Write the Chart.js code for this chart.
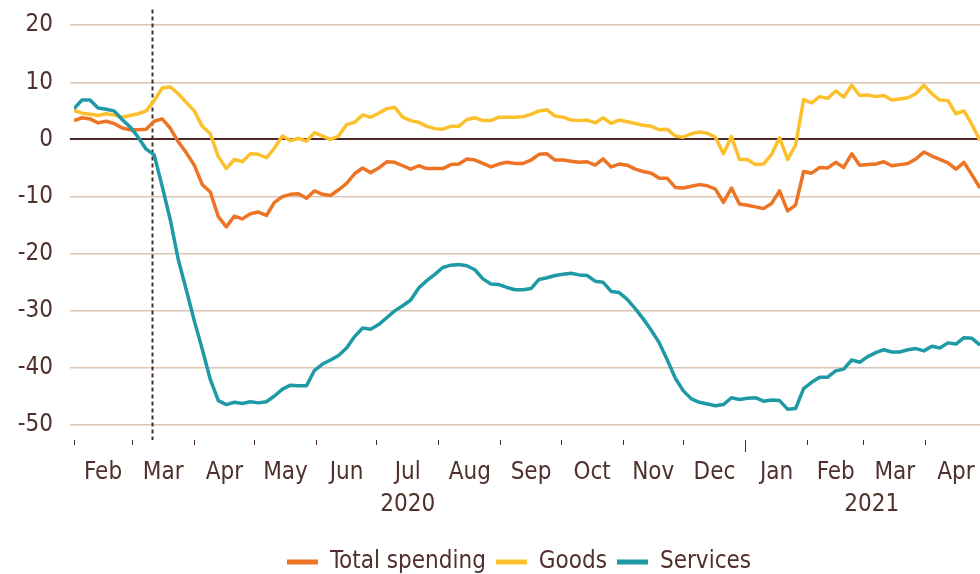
<!DOCTYPE html>
<html>
<head>
<meta charset="utf-8">
<script src="https://cdn.jsdelivr.net/npm/chart.js@4.4.1/dist/chart.umd.min.js"></script>
<style>
  html, body { margin: 0; padding: 0; background: #fff; overflow: hidden; }
  #wrap { width: 980px; height: 574px; overflow: hidden; }
  canvas { display: block; }
</style>
</head>
<body>
<div id="wrap"><canvas id="myChart" width="980" height="584"></canvas></div>
<script>
// values read every 4 days, day 0 = 1 Feb 2020
const dayStep = 4;

const totalSpending = [
  3.3, 3.8, 3.6, 2.9, 3.2, 2.8, 2.0, 1.7, 1.7, 1.8,
  3.2, 3.6, 2.0, -0.4, -2.3, -4.5, -7.9, -9.2, -13.5, -15.3,
  -13.4, -13.9, -13.0, -12.7, -13.3, -11.0, -10.0, -9.6, -9.5, -10.3,
  -9.0, -9.6, -9.8, -8.8, -7.7, -6.0, -5.0, -5.8, -5.0, -3.9,
  -4.0, -4.6, -5.2, -4.6, -5.1, -5.1, -5.1, -4.4, -4.3, -3.4,
  -3.6, -4.2, -4.8, -4.3, -4.0, -4.2, -4.2, -3.6, -2.6, -2.5,
  -3.6, -3.6, -3.8, -4.0, -3.9, -4.5, -3.4, -4.8, -4.3, -4.5,
  -5.2, -5.6, -5.9, -6.8, -6.8, -8.4, -8.5, -8.2, -7.9, -8.1,
  -8.7, -11.0, -8.5, -11.3, -11.5, -11.8, -12.1, -11.2, -9.0, -12.5,
  -11.5, -5.6, -5.9, -4.9, -5.0, -4.0, -4.9, -2.5, -4.5, -4.4,
  -4.3, -3.9, -4.6, -4.4, -4.2, -3.4, -2.2, -2.9, -3.5, -4.1,
  -5.2, -4.0, -6.2, -8.5
];

const goods = [
  5.1, 4.6, 4.4, 4.2, 4.5, 4.3, 3.9, 4.2, 4.5, 5.0,
  6.8, 9.0, 9.2, 8.0, 6.5, 5.0, 2.3, 1.0, -3.0, -5.1,
  -3.5, -3.9, -2.5, -2.6, -3.2, -1.5, 0.6, -0.2, 0.2, -0.3,
  1.2, 0.6, 0.0, 0.6, 2.6, 3.0, 4.3, 3.9, 4.6, 5.4,
  5.6, 3.9, 3.3, 3.0, 2.3, 1.9, 1.8, 2.3, 2.3, 3.5,
  3.8, 3.3, 3.3, 3.9, 3.9, 3.9, 4.0, 4.4, 5.0, 5.2,
  4.1, 3.9, 3.4, 3.3, 3.4, 2.9, 3.8, 2.8, 3.4, 3.1,
  2.8, 2.5, 2.3, 1.7, 1.8, 0.6, 0.4, 1.0, 1.3, 1.1,
  0.4, -2.5, 0.5, -3.5, -3.5, -4.4, -4.3, -2.6, 0.3, -3.5,
  -1.0, 7.0, 6.4, 7.5, 7.2, 8.5, 7.4, 9.5, 7.7, 7.8,
  7.5, 7.7, 6.9, 7.1, 7.3, 8.0, 9.5, 8.0, 6.9, 6.8,
  4.5, 5.0, 2.6, -0.2
];

const services = [
  5.4, 6.9, 6.9, 5.5, 5.3, 5.0, 3.5, 2.2, 0.4, -1.7,
  -2.7, -8.2, -14.0, -21.0, -26.3, -31.7, -36.7, -42.0, -45.7, -46.4,
  -46.0, -46.2, -45.9, -46.1, -45.9, -44.9, -43.7, -43.0, -43.1, -43.1,
  -40.4, -39.3, -38.6, -37.8, -36.5, -34.5, -33.0, -33.2, -32.4, -31.2,
  -30.0, -29.1, -28.1, -26.0, -24.7, -23.6, -22.4, -22.0, -21.9, -22.1,
  -22.8, -24.4, -25.3, -25.4, -25.9, -26.3, -26.3, -26.1, -24.5, -24.2,
  -23.8, -23.6, -23.4, -23.7, -23.8, -24.8, -25.0, -26.6, -26.8, -28.0,
  -29.6, -31.4, -33.4, -35.6, -38.6, -41.8, -44.0, -45.4, -46.0, -46.3,
  -46.6, -46.4, -45.2, -45.5, -45.3, -45.2, -45.8, -45.6, -45.7, -47.2,
  -47.1, -43.6, -42.5, -41.6, -41.6, -40.5, -40.2, -38.6, -39.0, -38.0,
  -37.3, -36.8, -37.2, -37.2, -36.8, -36.6, -37.0, -36.2, -36.5, -35.6,
  -35.8, -34.7, -34.8, -36.0
];

const days = totalSpending.map((v, i) => i * dayStep);

// month boundaries as day numbers (Feb 2020 .. May 2021)
const monthStarts = [0, 29, 60, 90, 121, 151, 182, 213, 243, 274, 304, 335, 366, 394, 425, 455];
const monthNames = ["Feb", "Mar", "Apr", "May", "Jun", "Jul", "Aug", "Sep", "Oct", "Nov", "Dec", "Jan", "Feb", "Mar", "Apr"];
const yearDays = [166.5, 398];
const yearNames = ["2020", "2021"];
const yTicks = [-50, -40, -30, -20, -10, 0, 10, 20];
const pandemicDay = 39; // 11 Mar 2020
const newYearDay = 335;

const xMin = 0;
const xMax = 452;

const textColor = "#4f302c";
const darkLine = "#4b2b29";
const gridColor = "#dcc5b3";
const fontFamily = "'DejaVu Sans Condensed', 'Liberation Sans Narrow', 'DejaVu Sans', sans-serif";

const xTicks = [];
monthStarts.forEach((d) => xTicks.push({ value: d, mark: true, text: "" }));
monthNames.forEach((name, i) => {
    xTicks.push({ value: (monthStarts[i] + monthStarts[i + 1]) / 2, mark: false, text: name });
});
yearDays.forEach((d, i) => xTicks.push({ value: d, mark: false, text: ["", yearNames[i]] }));
const xTicksShown = xTicks.filter((t) => t.value <= xMax).sort((a, b) => a.value - b.value);

const toPoints = (values) => values.map((v, i) => ({ x: days[i], y: v }));

const markers = {
    id: "markers",
    afterLayout(chart) {
        // nudge the legend a little left, as in the original
        chart.legend.left -= 8;
        chart.legend.right -= 8;
    },
    beforeDatasetsDraw(chart) {
        const { ctx, chartArea, scales } = chart;
        const x = Math.round(scales.x.getPixelForValue(pandemicDay)) + 0.5;
        ctx.save();
        ctx.strokeStyle = darkLine;
        ctx.lineWidth = 2;
        ctx.setLineDash([4, 3]);
        ctx.beginPath();
        ctx.moveTo(x, chartArea.top);
        ctx.lineTo(x, chartArea.bottom);
        ctx.stroke();
        ctx.restore();
    },
    afterDraw(chart) {
        const { ctx, chartArea, scales } = chart;
        const x = Math.round(scales.x.getPixelForValue(newYearDay)) + 0.5;
        ctx.save();
        ctx.strokeStyle = darkLine;
        ctx.lineWidth = 1;
        ctx.beginPath();
        ctx.moveTo(x, chartArea.bottom + 2);
        ctx.lineTo(x, chartArea.bottom + 12);
        ctx.stroke();
        ctx.restore();
    },
};

const ctx = document.getElementById("myChart").getContext("2d");
const myChart = new Chart(ctx, {
    type: "line",
    data: {
        datasets: [
            {
                label: "Total spending",
                data: toPoints(totalSpending),
                borderColor: "#ec7424",
                backgroundColor: "#ec7424",
                order: 3,
            },
            {
                label: "Goods",
                data: toPoints(goods),
                borderColor: "#fcc02d",
                backgroundColor: "#fcc02d",
                order: 2,
            },
            {
                label: "Services",
                data: toPoints(services),
                borderColor: "#1e9aa6",
                backgroundColor: "#1e9aa6",
                order: 1,
            },
        ],
    },
    options: {
        responsive: false,
        animation: false,
        devicePixelRatio: 1,
        layout: { padding: { top: 9.5, left: 0, right: 0, bottom: 0 } },
        elements: {
            point: { radius: 0 },
            line: { borderWidth: 3.5, tension: 0, borderJoinStyle: "round" },
        },
        scales: {
            x: {
                type: "linear",
                min: xMin,
                max: xMax,
                afterBuildTicks: (scale) => {
                    scale.ticks = xTicksShown.map((t) => ({ ...t }));
                },
                afterFit: (scale) => {
                    scale.height = 100;
                    scale.paddingLeft = 0;
                    scale.paddingRight = 0;
                },
                border: { display: false },
                grid: {
                    drawOnChartArea: false,
                    drawTicks: true,
                    tickLength: 5,
                    lineWidth: 1,
                    color: (c) => (c.tick && c.tick.mark ? darkLine : "rgba(0,0,0,0)"),
                },
                ticks: {
                    autoSkip: false,
                    maxRotation: 0,
                    padding: 11,
                    color: textColor,
                    font: { family: fontFamily, size: 24, lineHeight: 1.36 },
                    callback: (value, index, ticks) => ticks[index].text,
                },
            },
            y: {
                min: -52.6,
                max: 22.75,
                afterBuildTicks: (scale) => {
                    scale.ticks = yTicks.map((v) => ({ value: v }));
                },
                afterFit: (scale) => {
                    scale.width = 74;
                    scale.paddingTop = 0;
                    scale.paddingBottom = 0;
                },
                border: { display: false },
                grid: {
                    tickLength: 4,
                    color: (c) => (c.tick && c.tick.value === 0 ? darkLine : gridColor),
                    lineWidth: (c) => (c.tick && c.tick.value === 0 ? 2 : 1.5),
                },
                ticks: {
                    padding: 17,
                    color: textColor,
                    font: { family: fontFamily, size: 24 },
                },
            },
        },
        plugins: {
            tooltip: { enabled: false },
            legend: {
                position: "bottom",
                fullSize: false,
                labels: {
                    boxWidth: 31,
                    boxHeight: 5,
                    padding: 10,
                    color: textColor,
                    font: { family: fontFamily, size: 24 },
                    sort: (a, b) => a.datasetIndex - b.datasetIndex,
                    generateLabels: (chart) =>
                        Chart.defaults.plugins.legend.labels
                            .generateLabels(chart)
                            .map((item) => Object.assign(item, { lineWidth: 0 })),
                },
            },
        },
    },
    plugins: [markers],
});
</script>
</body>
</html>
